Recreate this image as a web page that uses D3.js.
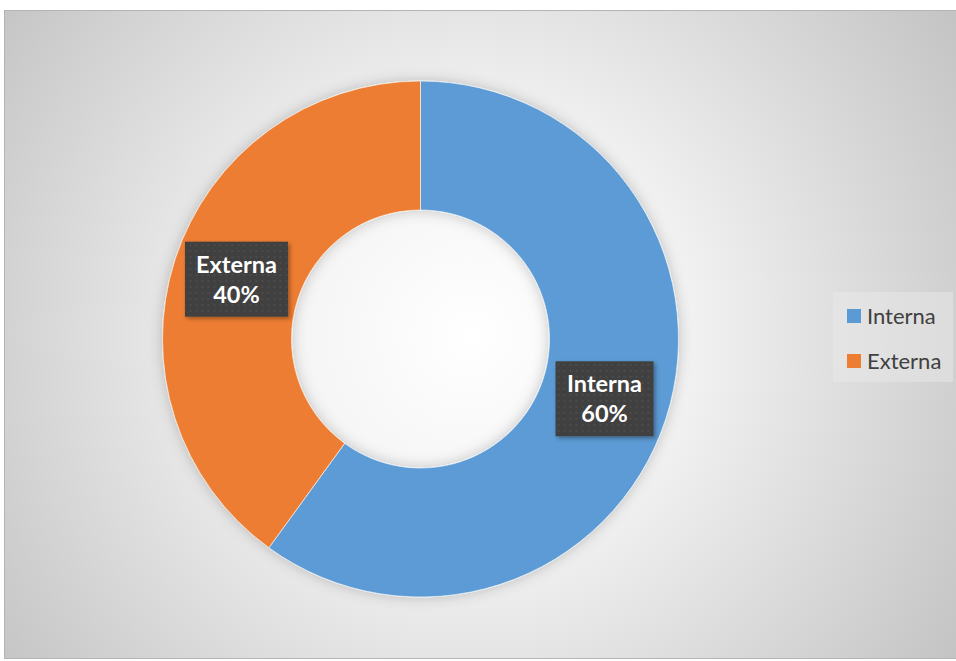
<!DOCTYPE html>
<html>
<head>
<meta charset="utf-8">
<script src="https://cdn.jsdelivr.net/npm/d3@7"></script>
<style>
  html, body { margin: 0; padding: 0; background: #ffffff; }
  svg { display: block; }
</style>
</head>
<body>
<svg id="chart" width="956" height="661"></svg>
<script>
// Donut: share of internal vs external
const categories = ["Interna", "Externa"];
const values = [60, 40];
const valueLabels = ["60%", "40%"];
const colors = ["#5b9bd5", "#ed7d31"];

const W = 956, H = 661;
const svg = d3.select("#chart");
const defs = svg.append("defs");

// Background: radial gradient from light centre to grey edges
const bg = defs.append("radialGradient")
  .attr("id", "bgGrad")
  .attr("gradientUnits", "userSpaceOnUse")
  .attr("cx", 470).attr("cy", 335).attr("r", 620);
bg.append("stop").attr("offset", "0%").attr("stop-color", "#ffffff");
bg.append("stop").attr("offset", "35%").attr("stop-color", "#f2f2f2");
bg.append("stop").attr("offset", "100%").attr("stop-color", "#bfbfbf");

// Soft shadow under the ring and the label boxes
const shadow = defs.append("filter").attr("id", "ringShadow")
  .attr("x", "-20%").attr("y", "-20%").attr("width", "140%").attr("height", "140%");
shadow.append("feDropShadow").attr("dx", 0).attr("dy", 0)
  .attr("stdDeviation", 7).attr("flood-color", "#000").attr("flood-opacity", 0.22);

const boxShadow = defs.append("filter").attr("id", "boxShadow")
  .attr("x", "-20%").attr("y", "-20%").attr("width", "150%").attr("height", "150%");
boxShadow.append("feDropShadow").attr("dx", 2).attr("dy", 2)
  .attr("stdDeviation", 2).attr("flood-color", "#000").attr("flood-opacity", 0.35);

// Dotted texture for the label boxes
const pat = defs.append("pattern").attr("id", "dots")
  .attr("patternUnits", "userSpaceOnUse").attr("width", 6).attr("height", 6);
pat.append("rect").attr("width", 6).attr("height", 6).attr("fill", "#3f3f3f");
pat.append("rect").attr("x", 1).attr("y", 1).attr("width", 2).attr("height", 2).attr("fill", "#4c4c4c");

// Chart area
svg.append("rect")
  .attr("x", 4.5).attr("y", 10.5).attr("width", W - 4).attr("height", 648)
  .attr("fill", "url(#bgGrad)")
  .attr("stroke", "#b4b4b4").attr("stroke-width", 1);

// Donut geometry
const cx = 420.5, cy = 339, outerR = 258, innerR = 129;

const pie = d3.pie().sort(null).value(d => d.value);
const arc = d3.arc().innerRadius(innerR).outerRadius(outerR);
const data = categories.map((c, i) => ({ name: c, value: values[i], label: valueLabels[i], color: colors[i] }));
const arcs = pie(data);

const g = svg.append("g").attr("transform", `translate(${cx},${cy})`);
g.append("g").attr("filter", "url(#ringShadow)")
  .selectAll("path")
  .data(arcs)
  .join("path")
  .attr("d", arc)
  .attr("fill", d => d.data.color)
  .attr("stroke", "#ffffff")
  .attr("stroke-opacity", 0.6)
  .attr("stroke-width", 1);

// Data labels centred on each slice's centroid
const boxW = [98, 103], boxH = 75;

arcs.forEach((a, i) => {
  const [mx, my] = arc.centroid(a);
  const x = cx + mx;
  const y = cy + my;
  const lg = svg.append("g").attr("transform", `translate(${x},${y})`);
  lg.append("rect")
    .attr("x", -boxW[i] / 2).attr("y", -boxH / 2)
    .attr("width", boxW[i]).attr("height", boxH)
    .attr("fill", "url(#dots)")
    .attr("filter", "url(#boxShadow)");
  lg.append("text")
    .attr("text-anchor", "middle")
    .attr("y", -6.5)
    .attr("font-family", "Lato, 'Open Sans', sans-serif")
    .attr("font-weight", "bold")
    .attr("font-size", 23.5)
    .attr("fill", "#ffffff")
    .text(a.data.name);
  lg.append("text")
    .attr("text-anchor", "middle")
    .attr("y", 23.5)
    .attr("font-family", "Lato, 'Open Sans', sans-serif")
    .attr("font-weight", "bold")
    .attr("font-size", 23.5)
    .attr("fill", "#ffffff")
    .text(a.data.label);
});

// Legend
const legend = svg.append("g");
legend.append("rect")
  .attr("x", 833).attr("y", 292).attr("width", 120).attr("height", 90)
  .attr("fill", "#ebebeb").attr("fill-opacity", 0.45);
const items = legend.selectAll("g.item")
  .data(data)
  .join("g")
  .attr("class", "item")
  .attr("transform", (d, i) => `translate(847,${309 + i * 45})`);
items.append("rect")
  .attr("width", 14).attr("height", 14)
  .attr("fill", d => d.color);
items.append("text")
  .attr("x", 20).attr("y", 14.5)
  .attr("font-family", "Lato, 'Open Sans', sans-serif")
  .attr("font-size", 22)
  .attr("fill", "#404040")
  .text(d => d.name);
</script>
</body>
</html>
